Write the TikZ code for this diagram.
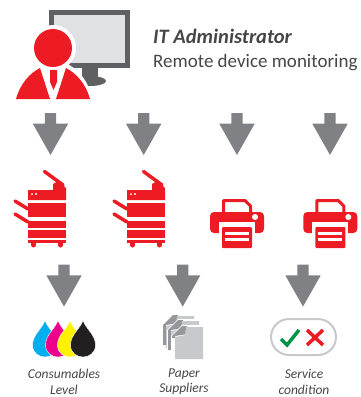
\documentclass[tikz,border=0pt]{standalone}
\usepackage{fontspec}
\setmainfont{Carlito}
\usetikzlibrary{shapes.arrows}
\definecolor{itred}{RGB}{237,28,36}
\definecolor{arrowgray}{RGB}{128,129,132}
\definecolor{screengray}{RGB}{224,225,226}
\definecolor{framegray}{RGB}{95,96,98}
\definecolor{papergray}{RGB}{200,201,204}
\definecolor{paperdark}{RGB}{150,151,154}
\definecolor{textgray}{RGB}{70,70,72}
\definecolor{inkcyan}{RGB}{0,174,239}
\definecolor{inkmagenta}{RGB}{236,0,140}
\definecolor{inkyellow}{RGB}{255,242,0}
\definecolor{inkblack}{RGB}{35,31,32}
\definecolor{okgreen}{RGB}{0,148,68}
\tikzset{
	downarrow/.style={single arrow, draw=none, fill=arrowgray, shape border rotate=270, anchor=tip, minimum height=42pt, inner sep=5.5pt, outer sep=0pt, single arrow head extend=12pt, single arrow tip angle=59},
	caption/.style={font=\fontsize{13.5}{15.5}\selectfont\itshape\color{textgray}, align=center, inner sep=0pt},
}
\begin{document}
\begin{tikzpicture}[x=1pt, y=-1pt, line join=round, line cap=round]
	\useasboundingbox (0,0) rectangle (360,397);
	% admin
	\fill[framegray] (49,10) rectangle (130,68);
	\fill[screengray] (54,15) rectangle (125,63);
	\fill[framegray] (82,68) rectangle (98,78);
	\fill[framegray] (90,81) ellipse (16 and 5);
	\fill[white] (13,103) .. controls (17,82) and (30,68) .. (42,63) -- (65,63) .. controls (78,68) and (90,82) .. (93,103) -- cycle;
	\fill[white] (53,48) circle (23);
	\fill[itred] (53,48) circle (19);
	\fill[itred] (16,99) .. controls (20,84) and (30,73) .. (40,68) -- (50,99) -- cycle;
	\fill[itred] (90,99) .. controls (86,84) and (76,73) .. (66,68) -- (56,99) -- cycle;
	\fill[itred] (50,70) -- (57,70) -- (57,82) -- (53.5,90) -- (50,82) -- cycle;
	\node[anchor=west, inner sep=0pt, font=\fontsize{20.5}{22}\selectfont\bfseries\itshape, text=textgray] (title) at (153,36) {IT Administrator};
	\node[anchor=west, inner sep=0pt, font=\fontsize{19}{22}\selectfont, text=textgray] (subtitle) at (153,63) {Remote device monitoring};
	% arrows
	\foreach \x/\y/\n in {50.5/155/a, 143.7/155/b, 237/155/c, 330/155/d, 64/306.6/e, 182.7/306.6/f, 303/306.6/g}
	\node[downarrow] (\n) at (\x,\y) {};
	% copiers
	\foreach \x in {0,99}{
		\begin{scope}[shift={(\x,0)}]
			\fill[itred] (28,190) -- (53,190) -- (53,184) -- (58,181) -- (66,188) -- (66,200) -- (28,200) -- cycle;
			\fill[white] (32,194) circle (1);
			\fill[white] (36,194) circle (1.2);
			\fill[itred] (28,203) rectangle (66,217);
			\fill[itred] (28,221) rectangle (66,228);
			\fill[itred] (28,230) rectangle (66,238);
			\fill[itred] (28,240) rectangle (66,243);
			\fill[itred] (31,243) rectangle (36,245);
			\fill[itred] (33.5,245) circle (2.5);
			\fill[itred] (58,243) rectangle (63,245);
			\fill[itred] (60.5,245) circle (2.5);
			\draw[itred, line width=3.5pt] (15,201) -- (28,209);
			\draw[itred, line width=3.5pt] (15,214) -- (28,222);
			\draw[itred, line width=3.5pt] (44.5,171.5) -- (63,185);
		\end{scope}
	}
	% printers
	\foreach \x in {0,93.3}{
		\begin{scope}[shift={(\x,0)}]
			\draw[itred, line width=3pt, line cap=butt] (223.5,213) -- (223.5,200.5) -- (245,200.5) -- (250.5,206) -- (250.5,213);
			\fill[itred, rounded corners=4pt] (210,233) -- (210,212) -- (264,212) -- (264,233) -- cycle;
			\fill[white] (219,222) rectangle (255,236);
			\fill[itred, rounded corners=1pt] (222,227) rectangle (252,248);
			\fill[white] (225,232) rectangle (249,234.5);
			\fill[white] (225,238) rectangle (249,240.5);
			\fill[white] (255,217) circle (3);
		\end{scope}
	}
	% drops
	\foreach \x/\c in {45/inkcyan, 58/inkmagenta, 70/inkyellow, 83/inkblack}{
		\fill[\c, draw=white, line width=0.4pt] (\x,320.5) .. controls (\x+3,329) and (\x+12.5,335) .. (\x+12.5,345) .. controls (\x+12.5,353) and (\x+6,357) .. (\x,357) .. controls (\x-6,357) and (\x-12.5,353) .. (\x-12.5,345) .. controls (\x-12.5,335) and (\x-3,329) .. (\x,320.5) -- cycle;
	}
	% paper
	\foreach \x/\y/\h in {163/315/30, 168/320/30, 172/326/12}{
		\fill[white] (\x-1,\y+10) -- (\x+10,\y-1) -- (\x+32,\y-1) -- (\x+32,\y+34) -- (\x-1,\y+34) -- cycle;
		\fill[paperdark] (\x,\y+10) -- (\x+10,\y) -- (\x+15,\y) -- (\x+15,\y+8) -- (\x+3,\y+10) -- (\x+3,\y+\h) -- (\x,\y+\h) -- cycle;
		\fill[papergray] (\x+3,\y+11) -- (\x+13,\y+9) -- (\x+14,\y+1) -- (\x+31,\y+1) -- (\x+31,\y+33) -- (\x+3,\y+33) -- cycle;
	}
	% service
	\draw[papergray, line width=2pt, fill=white, rounded corners=18pt] (271,319) rectangle (336,355);
	\draw[okgreen, line width=3.5pt, line cap=butt, line join=miter] (281,339) -- (287,345) -- (299,330);
	\draw[itred, line width=3.5pt, line cap=butt] (307,330) -- (323,345) (323,330) -- (307,345);
	% labels
	\node[caption] (inks) at (64,382) {Consumables\\Level};
	\node[caption] (paper) at (184,382) {Paper\\Suppliers};
	\node[caption] (service) at (304,382) {Service\\condition};
\end{tikzpicture}
\end{document}
